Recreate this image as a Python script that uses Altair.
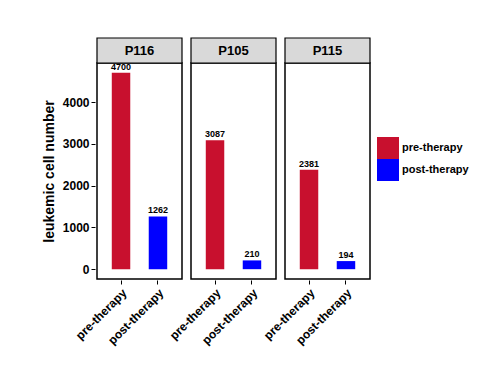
import altair as alt
import pandas as pd

patients = ["P116", "P105", "P115"]
therapy = ["pre-therapy", "post-therapy"]
pre_values = [4700, 3087, 2381]
post_values = [1262, 210, 194]
y_ticks = [0, 1000, 2000, 3000, 4000]
colors = ["#C8102E", "#0000FF"]

rows = []
for p, a, b in zip(patients, pre_values, post_values):
    rows.append({"patient": p, "therapy": therapy[0], "cells": a})
    rows.append({"patient": p, "therapy": therapy[1], "cells": b})
df = pd.DataFrame(rows)

W, H = 85, 216
FONT = "Liberation Sans"

x = alt.X(
    "therapy:N", sort=therapy, title=None,
    scale=alt.Scale(paddingInner=0.5, paddingOuter=0.4),
    axis=alt.Axis(labelAngle=-45, labelAlign="right", labelBaseline="top",
                  domain=False, tickColor="black", tickSize=4, tickWidth=1,
                  labelFont=FONT, labelFontWeight="bold", labelFontSize=12,
                  labelColor="black", labelPadding=3),
)
y = alt.Y(
    "cells:Q", title="leukemic cell number",
    scale=alt.Scale(domain=[-235, 4935], nice=False, zero=False),
    axis=alt.Axis(values=y_ticks, format="d", domain=False, grid=False,
                  tickColor="black", tickSize=4, tickWidth=1, labelFont=FONT,
                  labelFontWeight="bold", labelFontSize=12, labelColor="black",
                  labelPadding=2, titleFont=FONT, titleFontWeight="bold",
                  titleFontSize=14, titleColor="black", titlePadding=6),
)
color = alt.Color(
    "therapy:N", sort=therapy,
    scale=alt.Scale(domain=therapy, range=colors),
    legend=alt.Legend(title=None, symbolType="square", symbolSize=484,
                      symbolStrokeWidth=0, symbolOpacity=1, labelFont=FONT,
                      labelFontSize=11, labelFontWeight="bold", labelColor="black",
                      rowPadding=0, orient="none", legendX=280, legendY=74,
                      labelOffset=3),
)

bars = alt.Chart().mark_bar().encode(x=x, y=y, y2=alt.datum(0), color=color)
labels = alt.Chart().mark_text(baseline="bottom", dy=-1, font=FONT, fontSize=9,
                               fontWeight="bold", color="black").encode(
    x=x, y=alt.Y("cells:Q"), text="cells:Q")
strip = alt.Chart().transform_filter(alt.datum.therapy == therapy[0]).mark_rect(
    fill="#D9D9D9", stroke="black", strokeWidth=1.2, clip=False).encode(
    x=alt.value(0), x2=alt.value(W), y=alt.value(-25), y2=alt.value(0))
strip_text = alt.Chart().transform_filter(alt.datum.therapy == therapy[0]).mark_text(
    font=FONT, fontSize=13, fontWeight="bold", color="black", baseline="middle").encode(
    x=alt.value(W / 2), y=alt.value(-12.5), text="patient:N")

chart = alt.layer(bars, labels, strip, strip_text, data=df).properties(
    width=W, height=H
).facet(
    column=alt.Column("patient:N", sort=patients, title=None,
                      header=alt.Header(labels=False, title=None)),
    spacing=5,
).properties(
    padding={"left": 34, "top": 28, "right": 5, "bottom": 5}
).configure(background="white").configure_view(stroke="black", strokeWidth=1.5)

chart.save("out.html", embed_options={"renderer": "svg", "actions": False})
